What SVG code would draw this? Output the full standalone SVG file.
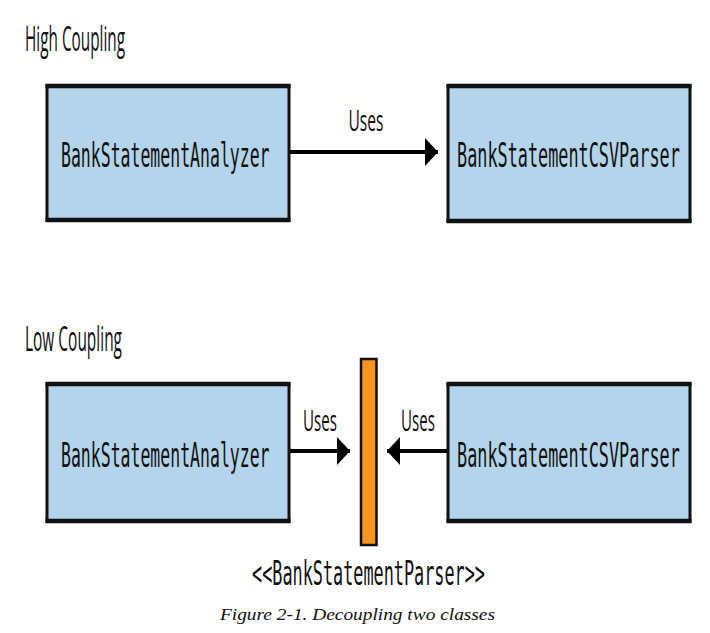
<svg xmlns="http://www.w3.org/2000/svg" width="710" height="633" viewBox="0 0 710 633">
<defs>
<style>
.box{fill:#b3d4ea;stroke:#111;stroke-width:3}
.edge{stroke:#111;stroke-width:4.5}
.iface{fill:#f7941d;stroke:#111;stroke-width:2.5}
.lbl{font-family:"DejaVu Sans Mono","Liberation Mono",monospace;font-size:33px;fill:#111}
.title{font-family:"Open Sans","Liberation Sans",sans-serif;font-size:35px;fill:#111}
.uses{font-family:"Open Sans","Liberation Sans",sans-serif;font-size:29px;fill:#111;text-anchor:middle}
.cap{font-family:"Liberation Serif","Times New Roman",serif;font-style:italic;font-size:17px;fill:#111}
.conn{fill:none;stroke:#000;stroke-width:4}
</style>
<marker id="ah" viewBox="0 0 13 28" refX="13" refY="14" markerWidth="13" markerHeight="28" markerUnits="userSpaceOnUse" orient="auto">
<path d="M0,0 L13,14 L0,28 z" fill="#000"/>
</marker>
</defs>
<rect width="710" height="633" fill="#fff"/>

<text class="title" x="25" y="51" textLength="100" lengthAdjust="spacingAndGlyphs">High Coupling</text>
<text class="title" x="25" y="351" textLength="97" lengthAdjust="spacingAndGlyphs">Low Coupling</text>

<g id="connectors">
<line class="conn" x1="289" y1="152" x2="438" y2="152" marker-end="url(#ah)"/>
<line class="conn" x1="289" y1="451" x2="350" y2="451" marker-end="url(#ah)"/>
<line class="conn" x1="448" y1="451" x2="387" y2="451" marker-end="url(#ah)"/>
<text class="uses" x="366" y="131" textLength="35" lengthAdjust="spacingAndGlyphs">Uses</text>
<text class="uses" x="320" y="431" textLength="34" lengthAdjust="spacingAndGlyphs">Uses</text>
<text class="uses" x="418" y="431" textLength="34" lengthAdjust="spacingAndGlyphs">Uses</text>
</g>

<g id="analyzer-high">
<rect class="box" x="47" y="86" width="242" height="134"/>
<line class="edge" x1="45.5" y1="86" x2="290.5" y2="86"/>
<line class="edge" x1="45.5" y1="220" x2="290.5" y2="220"/>
<text class="lbl" transform="translate(61,167) scale(0.5,1)">BankStatementAnalyzer</text>
</g>

<g id="csvparser-high">
<rect class="box" x="448" y="86" width="242" height="135"/>
<line class="edge" x1="446.5" y1="86" x2="691.5" y2="86"/>
<line class="edge" x1="446.5" y1="221" x2="691.5" y2="221"/>
<text class="lbl" transform="translate(457,167) scale(0.51,1)">BankStatementCSVParser</text>
</g>

<g id="analyzer-low">
<rect class="box" x="47" y="384" width="242" height="137"/>
<line class="edge" x1="45.5" y1="384" x2="290.5" y2="384"/>
<line class="edge" x1="45.5" y1="521" x2="290.5" y2="521"/>
<text class="lbl" transform="translate(61,467) scale(0.5,1)">BankStatementAnalyzer</text>
</g>

<g id="csvparser-low">
<rect class="box" x="448" y="384" width="242" height="137"/>
<line class="edge" x1="446.5" y1="384" x2="691.5" y2="384"/>
<line class="edge" x1="446.5" y1="521" x2="691.5" y2="521"/>
<text class="lbl" transform="translate(457,467) scale(0.51,1)">BankStatementCSVParser</text>
</g>

<g id="bankstatementparser">
<rect class="iface" x="361" y="359" width="15.5" height="186"/>
<text class="lbl" x="252" y="585" font-size="30" textLength="233" lengthAdjust="spacingAndGlyphs">&lt;&lt;BankStatementParser&gt;&gt;</text>
</g>

<text class="cap" x="220" y="620" textLength="275" lengthAdjust="spacingAndGlyphs">Figure 2-1. Decoupling two classes</text>
</svg>
